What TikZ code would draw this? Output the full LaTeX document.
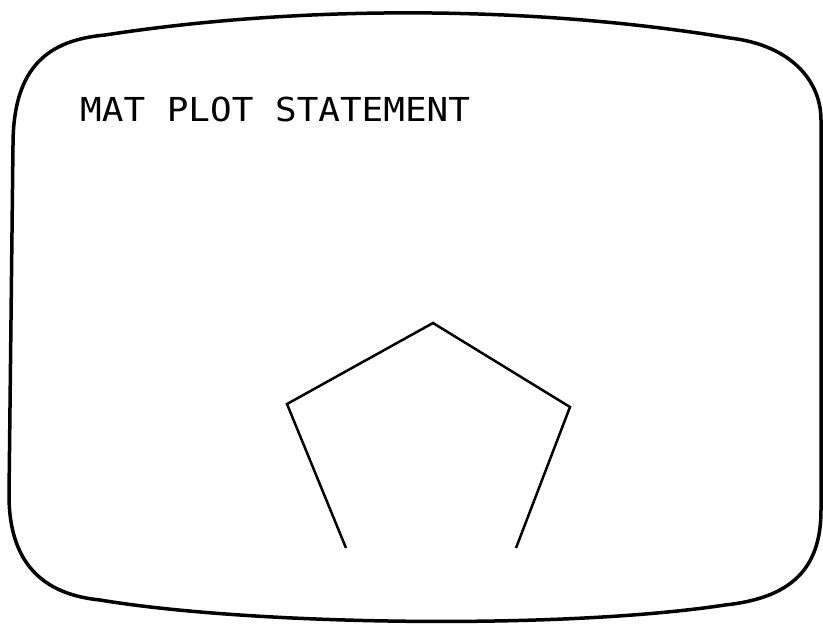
\documentclass[tikz,border=0pt]{standalone}
\usepackage{fontspec}
\usepackage{tikz}
\newfontfamily\plotfont{DejaVu Sans Mono}
\tikzset{
  screen/.style={line width=3.5pt, line join=round},
  figline/.style={line width=2.5pt, line join=miter},
  caption/.style={anchor=base west, inner sep=0pt, xscale=1.09, font=\plotfont\fontsize{33}{33}\selectfont}
}

\begin{document}
\begin{tikzpicture}[x=1pt, y=-1pt]
\useasboundingbox (0,0) rectangle (823,625);

% Outline of the display screen
\draw[screen] (105,35) .. controls (300,5) and (530,5) .. (730,38)
  .. controls (790,45) and (821,80) .. (821,120)
  -- (821,510)
  .. controls (821,570) and (790,598) .. (725,605)
  .. controls (560,630) and (250,625) .. (100,600)
  .. controls (50,595) and (9,570) .. (9,495)
  -- (13,145)
  .. controls (13,65) and (50,40) .. (105,35);

% Heading printed on the screen
\node[caption] (title) at (80,121) {MAT PLOT STATEMENT};

% Corners of the plotted pentagon
\coordinate (top) at (433,323);
\coordinate (left) at (287,404);
\coordinate (right) at (570,407);
\coordinate (lowleft) at (346,548);
\coordinate (lowright) at (516,548);

% Open pentagon, bottom side not drawn
\draw[figline] (lowleft) -- (left) -- (top) -- (right) -- (lowright);
\end{tikzpicture}
\end{document}
